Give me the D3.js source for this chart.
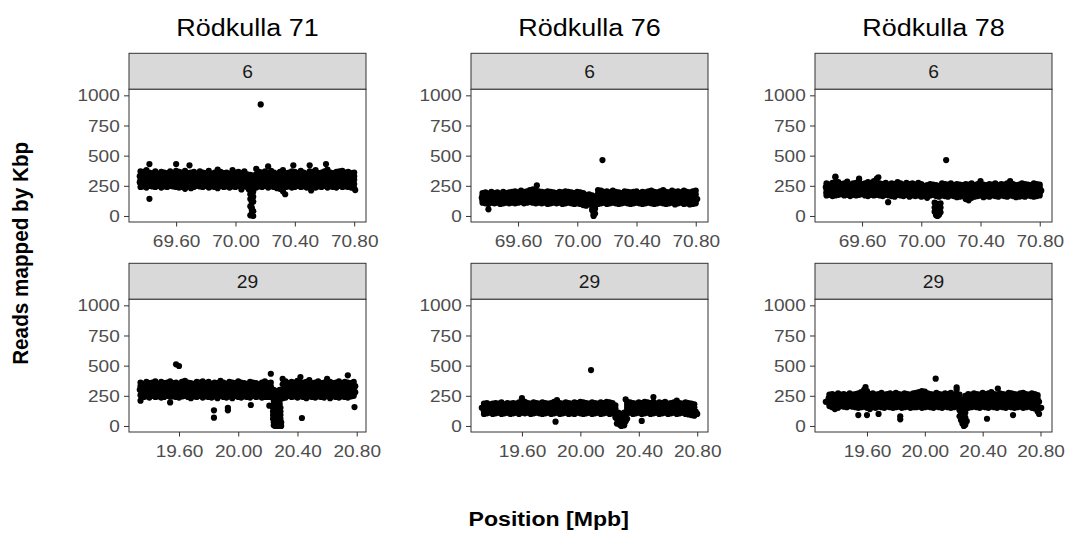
<!DOCTYPE html>
<html><head><meta charset="utf-8">
<script src="https://cdn.jsdelivr.net/npm/d3@7"></script>
<style>body{margin:0;background:#fff}</style>
</head><body><svg id="c" width="1069" height="536"></svg>
<script>
// ---------- data ----------
const samples = ["Rödkulla 71", "Rödkulla 76", "Rödkulla 78"];
const chromosomes = ["6", "29"];
const yTicks = [0, 250, 500, 750, 1000];
const yLimits = [0, 1000];
const xTicks6 = [69.6, 70.0, 70.4, 70.8];
const xTicks29 = [19.6, 20.0, 20.4, 20.8];
const xLabel = "Position [Mpb]";
const yLabel = "Reads mapped by Kbp";

const bins6 = [69.36,69.38,69.40,69.42,69.44,69.46,69.48,69.50,69.52,69.54,
 69.56,69.58,69.60,69.62,69.64,69.66,69.68,69.70,69.72,69.74,
 69.76,69.78,69.80,69.82,69.84,69.86,69.88,69.90,69.92,69.94,
 69.96,69.98,70.00,70.02,70.04,70.06,70.08,70.10,70.12,70.14,
 70.16,70.18,70.20,70.22,70.24,70.26,70.28,70.30,70.32,70.34,
 70.36,70.38,70.40,70.42,70.44,70.46,70.48,70.50,70.52,70.54,
 70.56,70.58,70.60,70.62,70.64,70.66,70.68,70.70,70.72,70.74,
 70.76,70.78,70.80];
const bins29 = [19.34,19.36,19.38,19.40,19.42,19.44,19.46,19.48,19.50,19.52,
 19.54,19.56,19.58,19.60,19.62,19.64,19.66,19.68,19.70,19.72,
 19.74,19.76,19.78,19.80,19.82,19.84,19.86,19.88,19.90,19.92,
 19.94,19.96,19.98,20.00,20.02,20.04,20.06,20.08,20.10,20.12,
 20.14,20.16,20.18,20.20,20.22,20.24,20.26,20.28,20.30,20.32,
 20.34,20.36,20.38,20.40,20.42,20.44,20.46,20.48,20.50,20.52,
 20.54,20.56,20.58,20.60,20.62,20.64,20.66,20.68,20.70,20.72,
 20.74,20.76,20.78];

// Rödkulla 71, chr 6
const r71c6Hi = [370,365,380,360,355,370,350,365,360,355, 370,350,375,365,360,375,355,360,365,350,
 370,360,355,375,350,360,385,365,355,360, 350,380,360,365,355,370,345,340,335,390,
 365,360,370,355,375,360,350,365,380,355, 360,370,365,355,375,360,350,370,365,380,
 355,360,370,385,360,355,365,370,375,360, 365,355,360];
const r71c6MidHi = [335,335,338,330,322,338,322,332,325,328, 332,325,340,328,330,335,330,325,332,322,
 335,325,330,335,325,325,342,335,325,330, 320,340,328,335,322,335,318,310,302,345,
 330,330,338,322,338,328,325,328,342,325, 330,330,330,330,338,328,320,335,335,338,
 328,328,330,345,330,325,332,330,340,328, 332,325,330];
const r71c6Mid = [300,305,295,300,290,305,295,300,290,300, 295,300,305,290,300,295,305,290,300,295,
 300,290,305,295,300,290,300,305,295,300, 290,300,295,305,290,300,290,280,270,300,
 295,300,305,290,300,295,300,290,305,295, 300,290,295,305,300,295,290,300,305,295,
 300,295,290,305,300,295,300,290,305,295, 300,295,300];
const r71c6MidLo = [270,275,265,272,268,270,275,265,270,268, 272,270,275,262,270,260,275,262,270,272,
 272,265,278,265,272,268,265,278,268,272, 262,272,268,278,255,272,265,255,248,268,
 270,268,278,262,272,268,265,258,255,268, 272,262,268,278,270,270,262,270,278,265,
 272,268,270,270,272,268,268,270,272,270, 270,265,265];
const r71c6Lo = [240,245,235,250,245,240,250,235,245,240, 250,245,240,235,240,225,245,230,240,250,
 245,240,250,235,245,240,230,250,240,245, 235,245,240,250,220,245,240,230,225,235,
 245,240,250,235,245,240,230,225,205,240, 245,235,240,250,240,245,235,240,250,235,
 245,240,250,235,245,240,235,250,240,245, 240,235,230];
const r71c6Extra = [[69.355,330],[69.355,280],[69.42,430],[69.42,142],[69.60,430],[69.69,420],[70.17,925],
 [70.22,412],[70.39,420],[70.50,420],[70.51,212],[70.335,180],[70.61,430],[70.807,215],
 [70.09,220],[70.10,180],[70.10,140],[70.11,110],[70.10,80],[70.11,50],[70.11,20],[70.12,0],
 [70.10,5],[70.12,160],[70.12,120],[70.11,70],[70.12,40],[70.11,190],[70.12,200],[70.11,150]];

// Rödkulla 76, chr 6
const r76c6Hi = [190,195,185,200,190,195,185,200,190,195, 200,205,195,210,200,205,215,220,210,205,
 200,195,205,200,195,190,200,195,205,200, 195,190,200,195,190,175,180,170,160,215,
 210,200,205,195,210,200,195,190,205,200, 195,200,205,190,200,195,205,210,200,195,
 205,215,200,195,210,200,205,195,210,200, 195,205,210];
const r76c6MidHi = [170,170,170,175,168,172,170,175,168,172, 178,178,175,185,178,178,188,188,185,178,
 178,172,180,175,170,170,178,172,180,175, 172,168,175,170,165,152,160,145,135,185,
 180,178,178,170,182,175,170,170,180,175, 170,175,180,170,172,172,180,180,172,172,
 180,182,172,172,182,175,175,172,182,175, 170,178,180];
const r76c6Mid = [150,145,155,150,145,150,155,150,145,150, 155,150,155,160,155,150,160,155,160,150,
 155,150,155,150,145,150,155,150,155,150, 150,145,150,145,140,130,140,120,110,155,
 150,155,150,145,155,150,145,150,155,150, 145,150,155,150,145,150,155,150,145,150,
 155,150,145,150,155,150,145,150,155,150, 145,150,150];
const r76c6MidLo = [130,125,128,130,125,130,128,128,128,128, 132,128,132,138,130,130,138,132,132,130,
 130,130,128,128,128,128,132,125,130,130, 128,122,128,122,115,108,120,108,95,128,
 128,132,125,125,132,128,122,128,132,128, 122,128,132,128,122,128,132,128,122,128,
 132,128,122,128,132,122,125,130,128,128, 120,125,128];
const r76c6Lo = [110,105,100,110,105,110,100,105,110,105, 110,105,110,115,105,110,115,110,105,110,
 105,110,100,105,110,105,110,100,105,110, 105,100,105,100,90,85,100,95,80,100,
 105,110,100,105,110,105,100,105,110,105, 100,105,110,105,100,105,110,105,100,105,
 110,105,100,105,110,95,105,110,100,105, 95,100,105];
const r76c6Extra = [[69.355,150],[70.81,140],[69.40,55],[69.727,253],[70.17,463],
 [70.10,80],[70.10,50],[70.11,30],[70.11,10],[70.12,20],[70.12,60],[70.11,0]];

// Rödkulla 78, chr 6
const r78c6Hi = [270,260,275,320,280,265,270,285,260,270, 275,300,265,270,280,275,290,310,270,265,
 275,260,270,265,280,270,260,275,265,270, 260,275,265,250,255,265,260,255,250,270,
 265,260,270,255,265,260,255,265,260,270, 255,265,290,260,255,265,260,270,255,265,
 260,270,290,265,255,260,270,265,260,255, 270,265,260];
const r78c6MidHi = [245,238,250,275,250,240,248,252,238,245, 250,265,240,245,252,248,260,268,242,242,
 245,240,248,238,250,242,240,242,240,245, 238,242,240,230,230,238,230,225,225,242,
 242,238,240,238,240,235,235,238,232,242, 232,240,255,238,232,240,240,240,235,242,
 238,240,255,240,232,238,245,238,238,238, 242,238,238];
const r78c6Mid = [220,215,225,230,220,215,225,220,215,220, 225,230,215,220,225,220,230,225,215,220,
 215,220,225,210,220,215,220,210,215,220, 215,210,215,210,205,210,200,195,200,215,
 220,215,210,220,215,210,215,210,205,215, 210,215,220,215,210,215,220,210,215,220,
 215,210,220,215,210,215,220,210,215,220, 215,210,215];
const r78c6MidLo = [195,195,195,200,198,198,198,198,190,198, 198,202,198,195,195,198,200,200,192,192,
 195,195,195,185,198,192,192,192,188,195, 190,190,188,188,178,190,188,180,180,192,
 192,188,190,192,185,185,190,175,168,182, 185,190,195,185,188,188,195,188,188,195,
 190,185,195,190,182,188,192,185,192,192, 188,188,192];
const r78c6Lo = [170,175,165,170,175,180,170,175,165,175, 170,175,180,170,165,175,170,175,170,165,
 175,170,165,160,175,170,165,175,160,170, 165,170,160,165,150,170,175,165,160,170,
 165,160,170,165,155,160,165,140,130,150, 160,165,170,155,165,160,170,165,160,170,
 165,160,170,165,155,160,165,160,170,165, 160,165,170];
const r78c6Extra = [[69.355,240],[69.36,190],[70.81,210],[69.42,327],[69.58,310],[69.71,320],[69.776,114],[70.168,463],
 [70.09,110],[70.10,95],[70.11,100],[70.12,90],[70.13,105],[70.09,70],[70.10,60],[70.11,75],[70.12,55],
 [70.13,70],[70.09,35],[70.10,25],[70.11,40],[70.12,20],[70.13,30],[70.10,5],[70.11,0],[70.12,10]];

// Rödkulla 71, chr 29
const r71c29Hi = [360,350,365,355,360,370,350,365,355,360, 370,355,360,350,365,375,360,355,350,365,
 360,370,355,365,350,360,355,375,360,350, 365,360,355,370,360,355,350,365,360,355,
 345,360,370,355,360,300,290,300,390,370, 355,365,360,375,405,360,365,380,355,360,
 370,355,360,390,365,355,360,370,355,365, 360,355,365];
const r71c29MidHi = [330,322,335,328,325,338,322,332,325,332, 330,328,332,322,332,332,332,328,322,332,
 332,330,328,330,328,330,322,338,332,322, 332,332,325,330,330,330,322,332,325,328,
 320,330,330,328,328,270,265,272,345,335, 330,330,330,332,355,330,330,340,322,332,
 335,325,332,345,328,328,332,332,328,328, 330,325,328];
const r71c29Mid = [300,295,305,300,290,305,295,300,295,305, 290,300,305,295,300,290,305,300,295,300,
 305,290,300,295,305,300,290,300,305,295, 300,305,295,290,300,305,295,300,290,300,
 295,300,290,300,295,240,238,242,300,300, 305,295,300,290,305,300,295,300,290,305,
 300,295,305,300,290,300,305,295,300,290, 300,295,290];
const r71c29MidLo = [255,268,275,268,270,272,270,268,268,278, 242,272,272,265,272,270,272,265,270,270,
 278,262,272,268,270,272,260,275,272,265, 272,268,272,265,268,275,268,268,270,270,
 270,268,265,270,268,210,208,212,265,268, 278,268,272,262,275,270,262,272,265,270,
 272,268,270,275,260,272,272,265,272,265, 268,270,270];
const r71c29Lo = [210,240,245,235,250,240,245,235,240,250, 195,245,240,235,245,250,240,230,245,240,
 250,235,245,240,235,245,230,250,240,235, 245,230,250,240,235,245,240,235,250,240,
 245,235,240,240,240,180,178,182,230,235, 250,240,245,235,245,240,230,245,240,235,
 245,240,235,250,230,245,240,235,245,240, 235,245,250];
const r71c29Extra = [[19.335,300],[20.79,280],[20.79,330],[19.58,511],[19.60,497],[19.836,130],[19.836,69],
 [19.93,150],[19.93,130],[20.085,174],[20.21,168],[20.22,433],[20.43,66],[20.74,420],[20.785,157],
 [20.235,150],[20.245,150],[20.255,150],[20.265,150],[20.275,150],[20.285,150],
 [20.235,120],[20.245,120],[20.255,120],[20.265,120],[20.275,120],[20.285,120],
 [20.235,90],[20.245,90],[20.255,90],[20.265,90],[20.275,90],[20.285,90],
 [20.235,60],[20.245,60],[20.255,60],[20.265,60],[20.275,60],[20.285,60],
 [20.240,30],[20.250,30],[20.260,30],[20.270,30],[20.280,30],[20.290,30],
 [20.240,5],[20.250,0],[20.260,5],[20.270,0],[20.280,5],[20.290,0]];

// Rödkulla 76, chr 29
const r76c29Hi = [185,190,180,185,190,185,195,180,190,185, 190,185,195,230,200,190,185,195,190,185,
 195,190,185,190,200,215,190,185,195,190, 185,195,190,200,195,190,185,195,190,185,
 195,190,200,195,190,170,110,100,110,200, 195,190,185,195,190,200,195,190,200,185,
 195,190,200,185,190,195,210,190,185,195, 190,185,180];
const r76c29MidHi = [162,168,160,165,170,162,170,165,165,165, 170,162,170,198,175,168,162,172,168,162,
 172,168,162,168,175,185,168,162,172,168, 162,172,168,175,170,165,165,172,165,165,
 172,168,175,170,165,145,90,80,85,175, 170,170,162,170,170,172,168,170,172,162,
 172,168,170,165,170,168,180,168,162,170, 165,160,155];
const r76c29Mid = [140,145,140,145,150,140,145,150,140,145, 150,140,145,165,150,145,140,150,145,140,
 150,145,140,145,150,155,145,140,150,145, 140,150,145,150,145,140,145,150,140,145,
 150,145,150,145,140,120,70,60,60,150, 145,150,140,145,150,145,140,150,145,140,
 150,145,140,145,150,140,150,145,140,145, 140,135,130];
const r76c29MidLo = [120,125,125,122,128,125,122,128,125,122, 128,125,122,138,128,128,120,128,128,122,
 125,125,125,122,128,132,122,122,130,122, 122,125,128,128,122,122,128,125,122,128,
 125,125,130,122,122,95,50,40,40,128, 128,125,122,128,125,125,125,125,125,125,
 125,125,125,122,128,125,125,125,125,122, 118,112,108];
const r76c29Lo = [100,105,110,100,105,110,100,105,110,100, 105,110,100,110,105,110,100,105,110,105,
 100,105,110,100,105,110,100,105,110,100, 105,100,110,105,100,105,110,100,105,110,
 100,105,110,100,105,70,30,20,20,105, 110,100,105,110,100,105,110,100,105,110,
 100,105,110,100,105,110,100,105,110,100, 95,90,85];
const r76c29Extra = [[19.325,150],[20.80,100],[20.79,120],[19.83,36],[20.073,463],[20.42,42],[20.50,240],
 [20.25,60],[20.26,30],[20.27,10],[20.28,0],[20.29,20],[20.30,5],[20.31,40],[20.32,60],[20.27,50],
 [20.29,60],[20.31,220],[20.26,90],[20.25,20],[20.30,70],[20.28,40]];

// Rödkulla 78, chr 29
const r78c29Hi = [260,265,255,270,260,265,255,270,260,265, 270,280,300,290,265,270,260,265,275,260,
 265,270,260,275,265,260,270,265,260,270, 275,280,290,285,270,265,260,275,265,260,
 270,265,275,260,300,260,220,250,265,260, 270,265,260,275,265,270,280,265,260,270,
 265,260,275,270,265,260,270,275,265,260, 270,265,255];
const r78c29MidHi = [235,240,230,240,238,238,230,242,235,235, 240,250,262,252,238,242,235,235,245,235,
 238,242,232,242,240,235,238,240,235,238, 245,250,250,250,240,235,235,245,238,232,
 240,240,242,232,260,225,185,210,238,238, 240,235,238,242,240,238,245,240,235,238,
 238,238,240,240,240,235,238,242,240,235, 238,238,228];
const r78c29Mid = [210,215,205,210,215,210,205,215,210,205, 210,220,225,215,210,215,210,205,215,210,
 210,215,205,210,215,210,205,215,210,205, 215,220,210,215,210,205,210,215,210,205,
 210,215,210,205,220,190,150,170,210,215, 210,205,215,210,215,205,210,215,210,205,
 210,215,205,210,215,210,205,210,215,210, 205,210,200];
const r78c29MidLo = [188,185,182,180,190,185,180,190,185,180, 180,188,192,182,175,185,180,182,185,180,
 185,185,178,182,188,180,180,188,180,180, 185,190,180,185,185,180,180,188,182,178,
 185,185,180,180,190,160,125,140,180,185, 185,180,182,185,185,178,185,185,180,182,
 182,182,182,182,182,182,182,180,185,185, 178,178,160];
const r78c29Lo = [165,155,160,150,165,160,155,165,160,155, 150,155,160,150,140,155,150,160,155,150,
 160,155,150,155,160,150,155,160,150,155, 155,160,150,155,160,155,150,160,155,150,
 160,155,150,155,160,130,100,110,150,155, 160,155,150,160,155,150,160,155,150,160,
 155,150,160,155,150,155,160,150,155,160, 150,145,120];
const r78c29Extra = [[19.315,200],[19.335,230],[20.79,200],[20.805,150],[19.378,140],[19.54,90],[19.59,323],[19.60,90],
 [19.68,100],[19.83,55],[19.83,80],[20.075,392],[20.22,320],[20.43,60],[20.505,310],[20.61,90],[20.79,100],
 [20.24,80],[20.25,50],[20.26,20],[20.27,0],[20.28,10],[20.29,40],[20.26,60],[20.27,30],[20.25,100],[20.28,70]];

// ---------- layout ----------
const FONT = "'Liberation Sans', Arial, Helvetica, sans-serif";
const colLeft = [129, 471, 815];
const panelW = 237;
const stripTop = [53.3, 263.3];
const stripH = 36;
const plotH = 132.7;
const R = 3.1;

const panelData = [
  [{bins: bins6, series: [r71c6Lo, r71c6MidLo, r71c6Mid, r71c6MidHi, r71c6Hi], extra: r71c6Extra},
   {bins: bins6, series: [r76c6Lo, r76c6MidLo, r76c6Mid, r76c6MidHi, r76c6Hi], extra: r76c6Extra},
   {bins: bins6, series: [r78c6Lo, r78c6MidLo, r78c6Mid, r78c6MidHi, r78c6Hi], extra: r78c6Extra}],
  [{bins: bins29, series: [r71c29Lo, r71c29MidLo, r71c29Mid, r71c29MidHi, r71c29Hi], extra: r71c29Extra},
   {bins: bins29, series: [r76c29Lo, r76c29MidLo, r76c29Mid, r76c29MidHi, r76c29Hi], extra: r76c29Extra},
   {bins: bins29, series: [r78c29Lo, r78c29MidLo, r78c29Mid, r78c29MidHi, r78c29Hi], extra: r78c29Extra}]
];
const xTicksByRow = [xTicks6, xTicks29];

const svg = d3.select("#c");
svg.append("rect").attr("width", 1069).attr("height", 536).attr("fill", "#fff");

// column titles
samples.forEach((s, c) => {
  svg.append("g").attr("transform", `translate(${colLeft[c] + panelW / 2},35.5) scale(1.1,1)`)
    .append("text").attr("text-anchor", "middle").attr("font-family", FONT)
    .attr("font-size", 24.5).attr("fill", "#000").text(s);
});

chromosomes.forEach((chr, r) => {
  samples.forEach((s, c) => {
    const p = panelData[r][c];
    const pts = [];
    p.series.forEach(arr => arr.forEach((v, i) => pts.push([p.bins[i], v])));
    p.extra.forEach(d => pts.push(d));
    const [xmin, xmax] = d3.extent(pts, d => d[0]);
    const xpad = 0.05 * (xmax - xmin);
    const ypad = 0.05 * (yLimits[1] - yLimits[0]);
    const left = colLeft[c];
    const top = stripTop[r] + stripH;
    const x = d3.scaleLinear().domain([xmin - xpad, xmax + xpad]).range([left, left + panelW]);
    const y = d3.scaleLinear().domain([yLimits[0] - ypad, yLimits[1] + ypad]).range([top + plotH, top]);

    // strip
    svg.append("rect").attr("x", left).attr("y", stripTop[r]).attr("width", panelW).attr("height", stripH)
      .attr("fill", "#D9D9D9").attr("stroke", "#333").attr("stroke-width", 1);
    svg.append("g").attr("transform", `translate(${left + panelW / 2},${stripTop[r] + 24.7}) scale(1.1,1)`)
      .append("text").attr("text-anchor", "middle").attr("font-family", FONT)
      .attr("font-size", 17.5).attr("fill", "#1A1A1A").text(chr);

    // panel background
    svg.append("rect").attr("x", left).attr("y", top).attr("width", panelW).attr("height", plotH)
      .attr("fill", "#fff");

    // points
    const clipId = `clip${r}${c}`;
    svg.append("clipPath").attr("id", clipId).append("rect")
      .attr("x", left).attr("y", top).attr("width", panelW).attr("height", plotH);
    svg.append("g").attr("clip-path", `url(#${clipId})`).selectAll("circle").data(pts).join("circle")
      .attr("cx", d => x(d[0])).attr("cy", d => y(d[1])).attr("r", R).attr("fill", "#000");

    // border
    svg.append("rect").attr("x", left).attr("y", top).attr("width", panelW).attr("height", plotH)
      .attr("fill", "none").attr("stroke", "#333").attr("stroke-width", 1);

    // axes
    const gx = svg.append("g").attr("transform", `translate(0,${top + plotH})`)
      .call(d3.axisBottom(x).tickValues(xTicksByRow[r]).tickFormat(d3.format(".2f"))
        .tickSize(4.5).tickPadding(8.5).tickSizeOuter(0));
    const gy = svg.append("g").attr("transform", `translate(${left},0)`)
      .call(d3.axisLeft(y).tickValues(yTicks).tickFormat(d3.format("d"))
        .tickSize(5).tickPadding(3.4).tickSizeOuter(0));
    [gx, gy].forEach(g => {
      g.select(".domain").remove();
      g.selectAll(".tick line").attr("stroke", "#333");
      g.selectAll(".tick text").attr("font-family", FONT).attr("font-size", 17.3)
        .attr("fill", "#4D4D4D").attr("transform", "scale(1.1,1)");
    });
  });
});

// axis titles
svg.append("g").attr("transform", "translate(548.7,526) scale(1.1,1)")
  .append("text").attr("text-anchor", "middle").attr("font-family", FONT)
  .attr("font-weight", "bold").attr("font-size", 21).attr("fill", "#000").text(xLabel);
svg.append("g").attr("transform", "translate(27.5,253.3) rotate(-90) scale(1,1.1)")
  .append("text").attr("text-anchor", "middle").attr("font-family", FONT)
  .attr("font-weight", "bold").attr("font-size", 20.7).attr("fill", "#000").text(yLabel);
</script>
</body></html>
